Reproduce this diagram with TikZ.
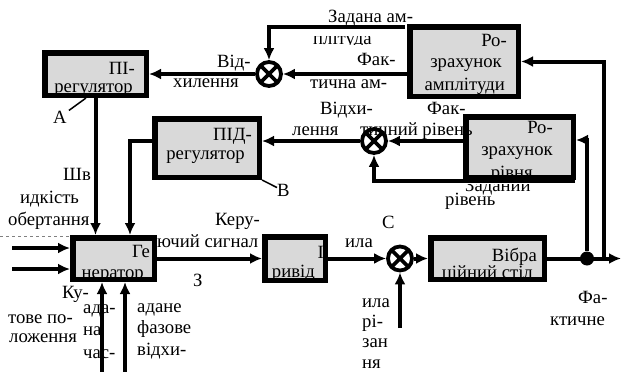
\documentclass[tikz,border=0pt]{standalone}
\usepackage{fontspec}
\setmainfont{Liberation Serif}
\usetikzlibrary{arrows.meta}

\begin{document}
\begin{tikzpicture}[x=1pt, y=-1pt,
	font=\fontsize{18.7}{21}\selectfont,
	blk/.style={draw, line width=5.5pt, fill=black!15, inner sep=0pt},
	sumnode/.style={circle, draw, line width=3.8pt, minimum size=24pt, inner sep=0pt, fill=white,
		path picture={\draw[line width=3.8pt] (path picture bounding box.south west) -- (path picture bounding box.north east)
			(path picture bounding box.north west) -- (path picture bounding box.south east);}},
	dotnode/.style={circle, fill, minimum size=14pt, inner sep=0pt},
	conn/.style={line width=4pt, -{Latex[length=12pt,width=11pt]}},
	lbl/.style={inner sep=0pt, anchor=base west},
	lblr/.style={inner sep=0pt, anchor=base east},
	lead/.style={line width=1.5pt}]
	\useasboundingbox (0,0) rectangle (621,372);

	% blocks
	\node[blk, minimum width=101.5pt, minimum height=42.5pt] (pi) at (95.5,74) {};
	\node[blk, minimum width=104.5pt, minimum height=58.5pt] (pid) at (207,148) {};
	\node[blk, minimum width=108.5pt, minimum height=69.5pt] (amp) at (464,61.5) {};
	\node[blk, minimum width=107.5pt, minimum height=60.5pt] (riv) at (519.5,147) {};
	\node[blk, minimum width=81.5pt, minimum height=41.5pt] (gen) at (113.5,258.5) {};
	\node[blk, minimum width=60.5pt, minimum height=43.5pt] (prv) at (295,258.5) {};
	\node[blk, minimum width=113.5pt, minimum height=41.5pt] (vib) at (487.5,258.5) {};

	\node[lblr] (tPi1) at (135,74) {ПІ-};
	\node[lblr] (tPi2) at (133,92) {регулятор};
	\node[lblr] (tPid1) at (252,140) {ПІД-};
	\node[lblr] (tPid2) at (245,159) {регулятор};
	\node[lblr] (tAmp1) at (507,46) {Ро-};
	\node[lblr] (tAmp2) at (502,67) {зрахунок};
	\node[lblr] (tAmp3) at (505,90) {амплітуди};
	\node[lblr] (tRiv1) at (553,133) {Ро-};
	\node[lblr] (tRiv2) at (553,155) {зрахунок};
	\begin{scope}
		\clip (470,160) rectangle (560,175);
		\node[lblr] (tRiv3) at (533,178) {рівня};
	\end{scope}
	\node[lblr] (tGen1) at (150,257) {Ге};
	\node[lblr] (tGen2) at (144,278) {нератор};
	\node[lblr] (tPrv1) at (324,258) {І};
	\node[lblr] (tPrv2) at (315,277) {ривід};
	\node[lblr] (tVib1) at (537,261) {Вібра};
	\node[lblr] (tVib2) at (533,278) {ційний стіл};

	% sums
	\node[sumnode] (s1) at (269,74) {};
	\node[sumnode] (s2) at (374,141) {};
	\node[sumnode] (s3) at (400,258.5) {};

	\coordinate (zA) at (405,27);
	\coordinate (zR) at (575,181);
	\coordinate (tapA) at (604,258.5);
	\coordinate (out) at (621,258.5);
	\coordinate (inK1) at (12,248);
	\coordinate (inK2) at (12,269);
	\coordinate (inC) at (102,372);
	\coordinate (inF) at (125,372);
	\coordinate (inP) at (400,328);
	\coordinate (dL) at (0,236);
	\node[dotnode] (tapR) at (587,258.5) {};

	% connectors
	\draw[conn] (zA) -| (s1);
	\draw[conn] (s1 -| amp.west) -- (s1);
	\draw[conn] (s1) -- (s1 -| pi.east);
	\draw[conn] (s2 -| riv.west) -- (s2);
	\draw[conn] (zR) -| (s2);
	\draw[conn] (s2) -- (s2 -| pid.east);
	\draw[conn] (pi.south) -- (pi.south |- gen.north);
	\draw[conn] (pid.west |- s2) -| ([xshift=16.5pt]gen.north);
	\draw[conn] (inK1) -- (inK1 -| gen.west);
	\draw[conn] (inK2) -- (inK2 -| gen.west);
	\draw[conn] (inC) -- (inC |- gen.south);
	\draw[conn] (inF) -- (inF |- gen.south);
	\draw[gray, dashed, line width=0.6pt] (dL) -- (dL -| gen.west);
	\draw[conn] (gen.east) -- (prv.west);
	\draw[conn] (prv.east) -- (s3);
	\draw[conn] (inP) -- (s3);
	\draw[conn] (s3) -- (vib.west);
	\draw[conn] (vib.east) -- (out);
	\draw[conn] (tapR) |- ([yshift=7pt]riv.east);
	\draw[conn] (tapA) |- (amp.east);

	% labels
	\node[lbl] (tZadA1) at (328,23) {Задана ам-};
	\begin{scope}
		\clip (300,36) rectangle (400,44);
		\node[lbl] (tZadA2) at (313,44) {плітуда};
	\end{scope}
	\node[lbl] (tFakA1) at (357,65) {Фак-};
	\node[lbl] (tFakA2) at (310,88) {тична ам-};
	\node[lbl] (tVid1) at (217,67) {Від-};
	\node[lbl] (tVid2) at (173,87) {хилення};
	\node[lbl] (tVidR1) at (320,114) {Відхи-};
	\node[lbl] (tVidR2) at (292,135) {лення};
	\node[lbl] (tFakR1) at (427,114) {Фак-};
	\node[lbl] (tFakR2) at (360,135) {тичний рівень};
	\begin{scope}
		\clip (450,184) rectangle (540,195);
		\node[lbl] (tZadR1) at (465,191) {Заданий};
	\end{scope}
	\node[lbl] (tZadR2) at (445,205) {рівень};
	\node[lbl] (lA) at (53,123) {A};
	\node[lbl] (lB) at (277,196) {B};
	\draw[lead] ([xshift=2pt]lA.north east) -- ([xshift=-9.5pt]pi.south);
	\draw[lead] (pid.south east) -- ([yshift=-4pt]lB.north west);
	\node[lbl] (tShv1) at (63,180) {Шв};
	\node[lbl] (tShv2) at (20,203) {идкість};
	\node[lbl] (tShv3) at (8,225) {обертання};
	\node[lbl] (tKer1) at (215,225) {Керу-};
	\node[lbl] (tKer2) at (157,247) {ючий сигнал};
	\node[lbl] (tZ) at (193,286) {З};
	\node[lbl] (tKut1) at (62,298) {Ку-};
	\node[lbl] (tKut2) at (8,323) {тове по-};
	\node[lbl] (tKut3) at (9,342) {ложення};
	\node[lbl] (tCh1) at (83,313) {ада-};
	\node[lbl] (tCh2) at (83,335) {на};
	\node[lbl] (tCh3) at (83,358) {час-};
	\node[lbl] (tFz1) at (137,312) {адане};
	\node[lbl] (tFz2) at (137,333) {фазове};
	\node[lbl] (tFz3) at (137,355) {відхи-};
	\node[lbl] (tC) at (382,228) {С};
	\node[lbl] (tSil) at (345,247) {ила};
	\node[lbl] (tRz1) at (362,307) {ила};
	\node[lbl] (tRz2) at (362,327) {рі-};
	\node[lbl] (tRz3) at (362,347) {зан};
	\node[lbl] (tRz4) at (362,368) {ня};
	\node[lbl] (tFa1) at (578,303) {Фа-};
	\node[lbl] (tFa2) at (550,325) {ктичне};
\end{tikzpicture}
\end{document}
